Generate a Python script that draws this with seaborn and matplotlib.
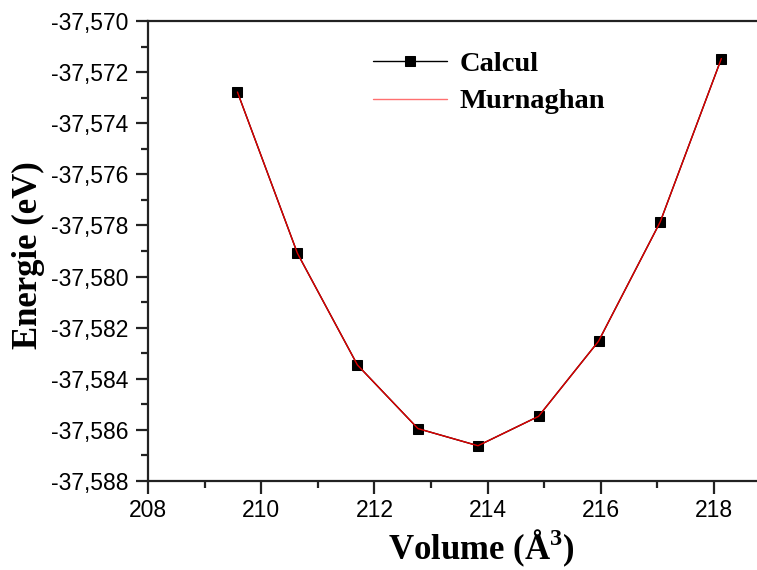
import matplotlib
matplotlib.use("Agg")
import numpy as np
import pandas as pd
import seaborn as sns
import matplotlib.pyplot as plt
from matplotlib.ticker import FuncFormatter, MultipleLocator, AutoMinorLocator

# values
volume = [209.58, 210.64, 211.70, 212.77, 213.83, 214.90, 215.96, 217.05, 218.13]
energie = [-37.57278, -37.57909, -37.58346, -37.58595, -37.58662,
           -37.58547, -37.58253, -37.57786, -37.57147]
series_names = ["Calcul", "Murnaghan"]

df_calc = pd.DataFrame({"Volume": volume, "Energie": energie})
df_fit = pd.DataFrame({"Volume": volume, "Energie": energie})

sns.set_style("ticks")
plt.rcParams["font.family"] = ["Liberation Sans", "DejaVu Sans"]
plt.rcParams["text.color"] = "black"
plt.rcParams["mathtext.fontset"] = "custom"
plt.rcParams["mathtext.rm"] = "Liberation Serif:bold"

fig = plt.figure(figsize=(7.57, 5.70), dpi=100)
ax = fig.add_axes([148 / 757, 1 - 481 / 570, 11 * 56.6 / 757, 460 / 570])

# Calcul: black squares joined by black line
sns.lineplot(data=df_calc, x="Volume", y="Energie", ax=ax, color="black",
             marker="s", markersize=7, markeredgecolor="black", linewidth=1,
             label=series_names[0])
# Murnaghan fit in red on top
sns.lineplot(data=df_fit, x="Volume", y="Energie", ax=ax, color="#e00000",
             linewidth=1, label=series_names[1])

ax.set_xlim(208, 219)
ax.set_ylim(-37.588, -37.570)
ax.xaxis.set_major_locator(MultipleLocator(2))
ax.xaxis.set_minor_locator(AutoMinorLocator(2))
ax.yaxis.set_major_locator(MultipleLocator(0.002))
ax.yaxis.set_minor_locator(AutoMinorLocator(2))
ax.yaxis.set_major_formatter(FuncFormatter(lambda v, p: f"{v:.3f}".replace(".", ",")))
ax.xaxis.set_major_formatter(FuncFormatter(lambda v, p: f"{v:.0f}"))

for s in ["left", "bottom", "top"]:
    ax.spines[s].set_linewidth(1.6)
    ax.spines[s].set_color("#222222")
ax.spines["right"].set_visible(False)

ax.tick_params(axis="both", which="major", direction="out", length=9, width=1.6,
               labelsize=16.5, colors="#222222", labelcolor="black")
ax.tick_params(axis="y", which="major", pad=5)
ax.tick_params(axis="x", which="major", pad=4)
ax.tick_params(axis="both", which="minor", direction="out", length=5, width=1.6,
               colors="#222222")

ax.set_xlabel("")
ax.set_ylabel("")
fig.text(481 / 757, 1 - 549 / 570, "Volume (Å$^{3}$)", ha="center", va="center",
         fontsize=25, fontweight="bold", family=["Liberation Serif"], color="black")
fig.text(28 / 757, 1 - 255 / 570, "Energie (eV)", ha="center", va="center",
         rotation=90, fontsize=25, fontweight="bold", family=["Liberation Serif"],
         color="black")

leg = ax.legend(loc="upper left", bbox_to_anchor=(0.32, 0.99), frameon=False,
                prop={"family": "Liberation Serif", "weight": "bold", "size": 20.5},
                handlelength=2.6, handletextpad=0.45, labelspacing=0.4)
leg.get_lines()[1].set_color("#ff7070")
for t in leg.get_texts():
    t.set_color("black")

fig.savefig("out.png", dpi=100)
